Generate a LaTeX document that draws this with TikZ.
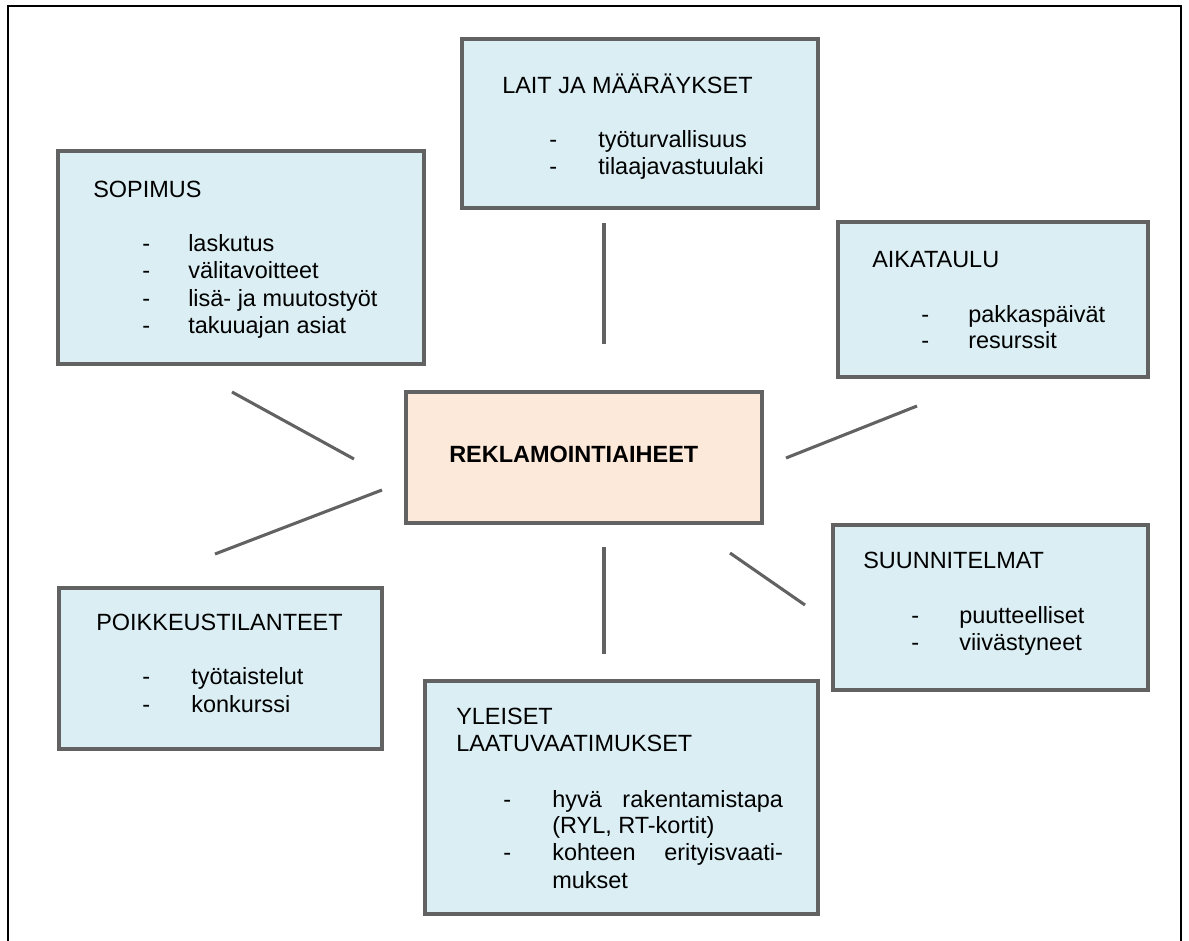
\documentclass[tikz,border=0pt]{standalone}
\usepackage{fontspec}
\setmainfont{Liberation Sans}
\usetikzlibrary{fit}
\definecolor{boxblue}{HTML}{DAEEF3}
\definecolor{boxorange}{HTML}{FDE9D9}
\definecolor{edgegray}{HTML}{626262}
\begin{document}
\begin{tikzpicture}[x=0.75pt,y=-0.75pt,
  frameline/.style={draw=black, line width=1.8pt},
  box/.style={draw=edgegray, line width=2.3pt, fill=boxblue, inner sep=0pt},
  centerbox/.style={box, fill=boxorange},
  txt/.style={anchor=base west, inner sep=0pt, font=\fontsize{17.6}{21}\selectfont},
  link/.style={draw=edgegray, line width=2.3pt}]
\useasboundingbox (0,0) rectangle (1189,940);
% outer frame (bottom edge lies outside the picture)
\draw[frameline] (8,950) -- (8,6) -- (1181,6) -- (1181,950);

% boxes
\node[box, fit={(58,151)(424,364)}] (sop) {};
\node[box, fit={(462,39)(818,208)}] (lait) {};
\node[box, fit={(838,222)(1148,377)}] (aika) {};
\node[centerbox, fit={(406,392)(762,523)}] (cent) {};
\node[box, fit={(833,525)(1148,690)}] (suun) {};
\node[box, fit={(59,588)(382,749)}] (poik) {};
\node[box, fit={(425,681)(818,914)}] (yle) {};

% connectors (free-standing strokes)
\coordinate (sopA) at (232,392); \coordinate (sopB) at (354,459);
\coordinate (poiA) at (215,554); \coordinate (poiB) at (382,490);
\coordinate (laiA) at (604,223); \coordinate (laiB) at (604,344);
\coordinate (aikA) at (786,458); \coordinate (aikB) at (917,406);
\coordinate (suuA) at (730,553); \coordinate (suuB) at (805,605);
\coordinate (yleA) at (604,547); \coordinate (yleB) at (604,654);
\draw[link] (sopA) -- (sopB);
\draw[link] (poiA) -- (poiB);
\draw[link] (laiA) -- (laiB);
\draw[link] (aikA) -- (aikB);
\draw[link] (suuA) -- (suuB);
\draw[link] (yleA) -- (yleB);

% center
\node[txt, font=\fontsize{17.6}{21}\selectfont\bfseries] (centT) at (449,462) {REKLAMOINTIAIHEET};

% SOPIMUS
\node[txt] (sopT) at (93,197) {SOPIMUS};
\node[txt] (sopD1) at (142,251) {-};
\node[txt] (sopD2) at (142,278) {-};
\node[txt] (sopD3) at (142,306) {-};
\node[txt] (sopD4) at (142,333) {-};
\node[txt] (sop1) at (188,251) {laskutus};
\node[txt] (sop2) at (188,278) {välitavoitteet};
\node[txt] (sop3) at (188,306) {lisä- ja muutostyöt};
\node[txt] (sop4) at (188,333) {takuuajan asiat};

% LAIT JA MÄÄRÄYKSET
\node[txt] (laiT) at (502,93) {LAIT JA MÄÄRÄYKSET};
\node[txt] (laiD1) at (549,147) {-};
\node[txt] (laiD2) at (549,174) {-};
\node[txt] (lai1) at (598,147) {työturvallisuus};
\node[txt] (lai2) at (598,174) {tilaajavastuulaki};

% AIKATAULU
\node[txt] (aikT) at (872,267) {AIKATAULU};
\node[txt] (aikD1) at (921,322) {-};
\node[txt] (aikD2) at (921,348) {-};
\node[txt] (aik1) at (968,322) {pakkaspäivät};
\node[txt] (aik2) at (968,348) {resurssit};

% SUUNNITELMAT
\node[txt] (suuT) at (863,568) {SUUNNITELMAT};
\node[txt] (suuD1) at (911,623) {-};
\node[txt] (suuD2) at (911,650) {-};
\node[txt] (suu1) at (959,623) {puutteelliset};
\node[txt] (suu2) at (959,650) {viivästyneet};

% POIKKEUSTILANTEET
\node[txt] (poiT) at (96,630) {POIKKEUSTILANTEET};
\node[txt] (poiD1) at (142,684) {-};
\node[txt] (poiD2) at (142,712) {-};
\node[txt] (poi1) at (191,684) {työtaistelut};
\node[txt] (poi2) at (191,712) {konkurssi};

% YLEISET LAATUVAATIMUKSET
\node[txt] (yleT1) at (456,724) {YLEISET};
\node[txt] (yleT2) at (456,751) {LAATUVAATIMUKSET};
\node[txt] (yleD1) at (503,807) {-};
\node[txt] (yleD2) at (503,860) {-};
\node[txt] (yle1) at (552,807) {\hbox to 173pt{hyvä\hfill rakentamistapa}};
\node[txt] (yle2) at (552,833) {(RYL, RT-kortit)};
\node[txt] (yle3) at (552,860) {\hbox to 173pt{kohteen\hfill erityisvaati-}};
\node[txt] (yle4) at (552,888) {mukset};
\end{tikzpicture}
\end{document}
